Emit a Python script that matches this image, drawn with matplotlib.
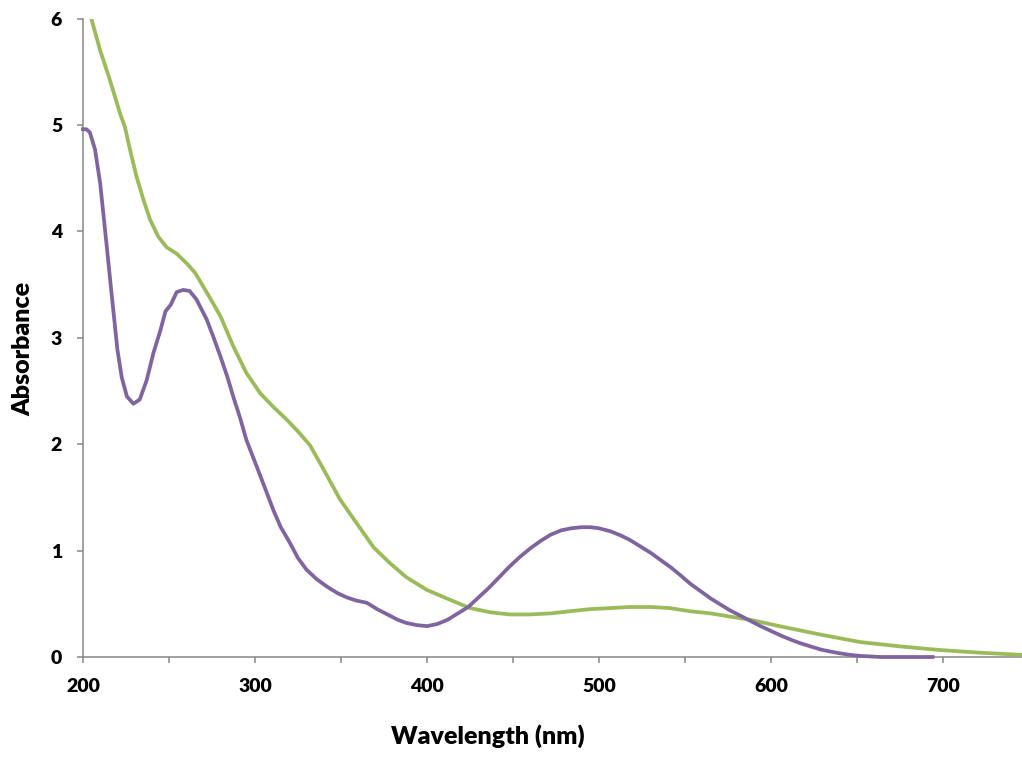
import numpy as np
import matplotlib.pyplot as plt
from matplotlib.ticker import MultipleLocator

# purple spectrum
wl_purple = [200, 202, 204, 207, 210, 212, 214, 216, 218, 220, 222.5, 225.5, 229.3, 233, 237, 241,
             245, 248, 251, 254.5, 258.3, 262, 266, 272, 276, 280, 284, 287.5, 291.3, 295, 301, 306,
             310.7, 315, 320.4, 325, 330, 336, 342, 348, 353.4, 359, 365, 371, 377, 383, 388, 394,
             400, 406, 412, 418, 424, 430, 436, 442, 448, 454, 460, 466, 472, 478, 484, 490, 495,
             500, 507, 513, 518, 524, 530, 536, 542, 548, 553, 559, 565, 571, 576, 582, 588, 594,
             600, 606, 612, 617, 623, 629, 635, 640, 646, 652, 658, 664, 670, 680, 694]
abs_purple = [4.96, 4.96, 4.93, 4.77, 4.45, 4.14, 3.83, 3.51, 3.20, 2.89, 2.63, 2.45, 2.38, 2.42, 2.60, 2.86,
              3.07, 3.25, 3.31, 3.43, 3.45, 3.44, 3.36, 3.17, 3.00, 2.82, 2.63, 2.44, 2.25, 2.04, 1.79, 1.58,
              1.38, 1.22, 1.07, 0.93, 0.82, 0.73, 0.66, 0.60, 0.56, 0.53, 0.51, 0.45, 0.40, 0.35, 0.32, 0.30,
              0.29, 0.31, 0.35, 0.41, 0.47, 0.56, 0.65, 0.75, 0.85, 0.94, 1.02, 1.09, 1.15, 1.19, 1.21, 1.22, 1.22,
              1.21, 1.18, 1.14, 1.10, 1.04, 0.98, 0.91, 0.84, 0.76, 0.69, 0.62, 0.55, 0.49, 0.44, 0.39, 0.34, 0.29,
              0.245, 0.20, 0.16, 0.13, 0.10, 0.07, 0.05, 0.035, 0.02, 0.01, 0.005, 0.0, 0.0, 0.0, 0.0]

# green spectrum
wl_green = [200, 205, 210, 215.7, 221.5, 224.4, 227.3, 231.2, 235.1, 239, 243.8, 248.7, 254.5, 260.3,
            265.2, 270, 274, 280, 287.4, 295, 303, 310.7, 318.5, 325, 332, 340, 349.5, 359, 369,
            378.6, 388, 400, 411.6, 425, 437, 448, 460, 472, 483, 495, 507, 518, 530, 541, 553, 565,
            576, 588, 605, 629, 652, 675, 698, 722, 746]
abs_green = [6.4, 5.99, 5.70, 5.42, 5.11, 4.98, 4.77, 4.51, 4.30, 4.11, 3.95, 3.85, 3.79, 3.70,
             3.61, 3.48, 3.37, 3.20, 2.92, 2.67, 2.48, 2.35, 2.23, 2.12, 1.99, 1.76, 1.48, 1.26, 1.03,
             0.88, 0.75, 0.63, 0.55, 0.46, 0.42, 0.40, 0.40, 0.41, 0.43, 0.45, 0.46, 0.47, 0.47, 0.46, 0.43, 0.41,
             0.38, 0.35, 0.29, 0.21, 0.14, 0.10, 0.066, 0.04, 0.02]

plt.rcParams['font.family'] = ['Lato', 'DejaVu Sans']

fig = plt.figure(figsize=(10.22, 7.58), dpi=100)
ax = fig.add_axes([83/1022, 101/758, 939/1022, 638.4/758])

ax.plot(wl_green, abs_green, color='#9BBB59', lw=2.7, zorder=3)
ax.plot(wl_purple, abs_purple, color='#8064A2', lw=2.7, zorder=4, clip_on=False)

ax.set_xlim(200, 746)
ax.set_ylim(0, 6)
ax.xaxis.set_major_locator(MultipleLocator(100))
ax.xaxis.set_minor_locator(MultipleLocator(50))
ax.yaxis.set_major_locator(MultipleLocator(1))

for s in ['top', 'right']:
    ax.spines[s].set_visible(False)
for s in ['left', 'bottom']:
    ax.spines[s].set_color('#868686')
    ax.spines[s].set_linewidth(1.1)

ax.tick_params(which='both', direction='out', length=4, width=1.1, color='#868686',
               labelsize=14, pad=11)
for lab in ax.get_xticklabels() + ax.get_yticklabels():
    lab.set_fontweight('heavy')

ax.set_xlabel('Wavelength (nm)', fontsize=18, fontweight='heavy')
ax.set_ylabel('Absorbance', fontsize=18, fontweight='heavy')
ax.xaxis.set_label_coords(0.431, -0.105)
ax.yaxis.set_label_coords(-0.052, 0.483)

fig.savefig('out.png', dpi=100)
